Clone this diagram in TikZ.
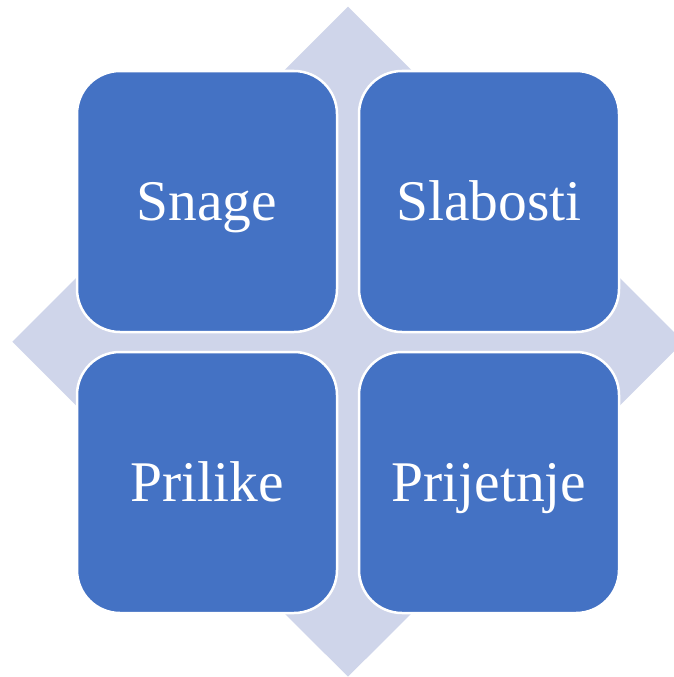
\documentclass[tikz,border=0pt]{standalone}
\usepackage{fontspec}
\setmainfont{Liberation Serif}
\definecolor{boxblue}{HTML}{4472C4}
\definecolor{bglav}{HTML}{CFD5EA}
\tikzset{
  quad/.style={rectangle, rounded corners=43pt, fill=boxblue, draw=white, line width=2.5pt,
    minimum width=260pt, minimum height=261pt, inner sep=0pt,
    text=white, font=\fontsize{57.5}{60}\selectfont, text height=38pt, text depth=0pt},
  bgshape/.style={fill=bglav}
}
\begin{document}
\begin{tikzpicture}[x=1pt,y=-1pt]
\useasboundingbox (0,0) rectangle (674,677);
\clip (0,0) rectangle (674,677);
\coordinate (dt) at (348,6.7);
\coordinate (dl) at (12.3,341.7);
\coordinate (db) at (348,676.7);
\coordinate (dr) at (683.7,341.7);
\fill[bgshape] (dt) -- (dl) -- (db) -- (dr) -- cycle;
\node[quad] (snage) at (207,201.5) {Snage};
\node[quad] (slabosti) at (489,201.5) {Slabosti};
\node[quad] (prilike) at (207,482.5) {Prilike};
\node[quad] (prijetnje) at (489,482.5) {Prijetnje};
\end{tikzpicture}
\end{document}
